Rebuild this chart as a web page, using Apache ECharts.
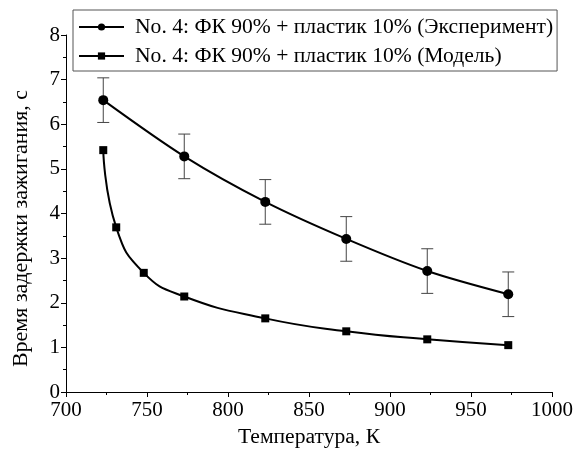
<!DOCTYPE html>
<html>
<head>
<meta charset="utf-8">
<script src="https://cdn.jsdelivr.net/npm/echarts@6/dist/echarts.min.js"></script>
<style>
  html, body { margin: 0; padding: 0; background: #fff; }
  #chart { width: 576px; height: 453px; }
</style>
</head>
<body>
<div id="chart"></div>
<script>
// Эксперимент: температура, время задержки, погрешность
const expT = [723, 773, 823, 873, 923, 973];
const expTime = [6.54, 5.28, 4.26, 3.43, 2.71, 2.19];
const expErr = [0.5, 0.5, 0.5, 0.5, 0.5, 0.5];

// Модель
const modT = [723, 731, 748, 773, 823, 873, 923, 973];
const modTime = [5.42, 3.69, 2.67, 2.14, 1.65, 1.36, 1.18, 1.05];

const nameExp = 'No. 4: ФК 90% + пластик 10% (Эксперимент)';
const nameMod = 'No. 4: ФК 90% + пластик 10% (Модель)';

const font = '"Liberation Serif", "Times New Roman", serif';

const chart = echarts.init(document.getElementById('chart'));

const option = {
  animation: false,
  backgroundColor: '#fff',
  textStyle: { fontFamily: font, color: '#000' },
  grid: { left: 66, right: 24, top: 35, bottom: 60 },
  legend: {
    left: 73,
    top: 10,
    orient: 'vertical',
    borderColor: '#555',
    borderWidth: 1,
    padding: [6, 4, 4, 5],
    itemGap: 7,
    itemWidth: 45,
    itemHeight: 9,
    textStyle: { fontFamily: font, fontSize: 21.6, lineHeight: 22, color: '#000', padding: [0, 0, 0, 6] },
    data: [nameExp, nameMod]
  },
  xAxis: {
    type: 'value',
    min: 700,
    max: 1000,
    interval: 50,
    name: 'Температура, К',
    nameLocation: 'middle',
    nameGap: 34,
    nameTextStyle: { fontFamily: font, fontSize: 21.6, color: '#000' },
    axisLine: { lineStyle: { color: '#000', width: 1 } },
    axisTick: { show: true, length: 5, lineStyle: { color: '#000' } },
    minorTick: { show: true, splitNumber: 2, length: 3, lineStyle: { color: '#000' } },
    splitLine: { show: false },
    axisLabel: { fontFamily: font, fontSize: 21, color: '#000', margin: 8, formatter: v => String(v) }
  },
  yAxis: {
    type: 'value',
    min: 0,
    max: 8,
    interval: 1,
    name: 'Время задержки зажигания, с',
    nameLocation: 'middle',
    nameGap: 34,
    nameTextStyle: { fontFamily: font, fontSize: 22, color: '#000', padding: [0, 30, 0, 0] },
    axisLine: { show: true, lineStyle: { color: '#000', width: 1 } },
    axisTick: { show: true, length: 5, lineStyle: { color: '#000' } },
    minorTick: { show: true, splitNumber: 2, length: 3, lineStyle: { color: '#000' } },
    splitLine: { show: false },
    axisLabel: { fontFamily: font, fontSize: 21, color: '#000', margin: 6 }
  },
  series: [
    {
      type: 'custom',
      name: 'err',
      z: 1,
      silent: true,
      data: expT.map((t, i) => [t, expTime[i] - expErr[i], expTime[i] + expErr[i]]),
      renderItem: function (params, api) {
        const lo = api.coord([api.value(0), api.value(1)]);
        const hi = api.coord([api.value(0), api.value(2)]);
        const hw = 6;
        const style = { stroke: '#444', lineWidth: 1 };
        return {
          type: 'group',
          children: [
            { type: 'line', shape: { x1: lo[0], y1: lo[1], x2: hi[0], y2: hi[1] }, style: style },
            { type: 'line', shape: { x1: lo[0] - hw, y1: lo[1], x2: lo[0] + hw, y2: lo[1] }, style: style },
            { type: 'line', shape: { x1: hi[0] - hw, y1: hi[1], x2: hi[0] + hw, y2: hi[1] }, style: style }
          ]
        };
      }
    },
    {
      name: nameExp,
      type: 'line',
      z: 3,
      smooth: 0.3,
      symbol: 'circle',
      symbolSize: 10,
      itemStyle: { color: '#000' },
      lineStyle: { color: '#000', width: 2 },
      data: expT.map((t, i) => [t, expTime[i]])
    },
    {
      name: nameMod,
      type: 'line',
      z: 3,
      smooth: 0.5,
      symbol: 'rect',
      symbolSize: 8,
      itemStyle: { color: '#000' },
      lineStyle: { color: '#000', width: 2 },
      data: modT.map((t, i) => [t, modTime[i]])
    }
  ]
};

chart.setOption(option);
</script>
</body>
</html>
